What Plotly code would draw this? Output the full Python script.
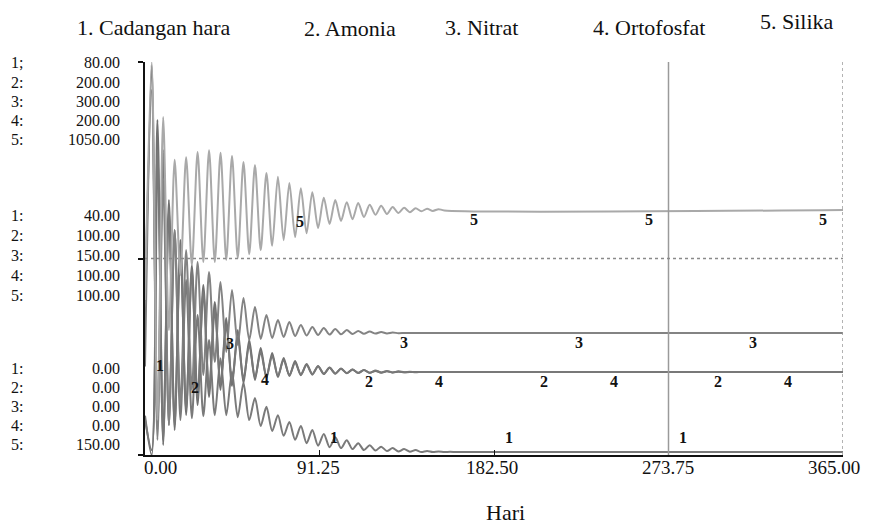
import plotly.graph_objects as go
import numpy as np

# ---------------- data ----------------
series_names = ["1. Cadangan hara", "2. Amonia", "3. Nitrat", "4. Ortofosfat", "5. Silika"]
scale_min = [0, 0, 0, 0, 150]
scale_max = [80, 200, 300, 200, 1050]
row_prefix_top = ["1;", "2:", "3:", "4:", "5:"]
row_prefix = ["1:", "2:", "3:", "4:", "5:"]
top_labels = ["80.00", "200.00", "300.00", "200.00", "1050.00"]
mid_labels = ["40.00", "100.00", "150.00", "100.00", "100.00"]
bot_labels = ["0.00", "0.00", "0.00", "0.00", "150.00"]
x_ticks = [0, 91.25, 182.5, 273.75, 365]
x_tick_labels = ["0.00", "91.25", "182.50", "273.75", "365.00"]
t_end = 365

# times (days) of the two alternating extrema of the oscillations
t_a = [3.5, 9.5, 15.5, 21.5, 27.5, 33.5, 39.5, 45.5, 51.5, 57.5, 63.5, 69.5, 75.5, 81.5,
       87.5, 93.5, 99.5, 105.5, 111.5, 117.5, 123.5, 129.5, 135.5, 141.5, 147.5, 153.5, 159.5, 165.5]
t_b = [6.5, 12.5, 18.5, 24.5, 30.5, 36.5, 42.5, 48.5, 54.5, 60.5, 66.5, 72.5, 78.5, 84.5,
       90.5, 96.5, 102.5, 108.5, 114.5, 120.5, 126.5, 132.5, 138.5, 144.5, 150.5, 156.5, 162.5, 168.5]

# 1. Cadangan hara (peaks at t_a, troughs at t_b)
s1_start = 18.0
s1_peaks = [79.4, 62.1, 45.8, 35.6, 28.5, 23.4, 19.7, 16.9, 14.7, 11.6, 9.8, 8.1, 6.7, 5.9,
            5.1, 4.3, 3.6, 3.0, 2.4, 2.0, 1.7, 1.4, 1.2, 1.0, 0.83, 0.73, 0.65, 0.61]
s1_troughs = [5.1, 6.1, 7.1, 7.5, 7.9, 8.1, 8.1, 7.7, 7.1, 5.9, 4.9, 3.9, 3.1, 2.4,
              1.9, 1.6, 1.4, 1.2, 1.0, 0.9, 0.8, 0.71, 0.65, 0.61, 0.61, 0.61, 0.61, 0.61]
s1_final = 0.6

# 2. Amonia (troughs at t_a, peaks at t_b)
s2_start = 20.0
s2_peaks = [170.5, 129.8, 109.4, 96.7, 86.5, 77.9, 69.7, 63.6, 58.5, 54.5, 51.9, 49.4,
            47.8, 46.3, 45.3, 44.5, 44.0, 43.5, 43.2, 42.8, 42.6, 42.4, 42.2]
s2_troughs = [0.0, 5.1, 12.7, 20.4, 25.4, 29.5, 33.1, 35.1, 36.6, 38.2, 39.2, 39.7,
              40.2, 40.6, 40.9, 41.2, 41.4, 41.6, 41.7, 41.8, 41.9, 42.0, 42.1]
s2_final = 42.2

# 3. Nitrat (peaks at t_a, troughs at t_b)
s3_start = 118.0
s3_peaks = [278.6, 209.9, 171.8, 156.5, 147.3, 139.7, 132.1, 126.0, 119.9, 113.0, 106.9, 103.1,
            101.5, 99.2, 97.7, 97.0, 96.2, 95.4, 94.7, 94.3, 93.9, 93.5, 93.1]
s3_troughs = [11.5, 22.9, 38.2, 49.6, 61.1, 71.0, 78.6, 84.0, 87.8, 88.6, 89.3, 90.1,
              90.8, 91.2, 91.6, 91.9, 92.1, 92.4, 92.5, 92.7, 92.8, 93.0, 93.1]
s3_final = 93.1

# 4. Ortofosfat (troughs at t_a, peaks at t_b)
s4_start = 18.0
s4_peaks = [155.2, 124.7, 106.9, 94.1, 83.0, 73.8, 66.2, 60.1, 56.0, 52.4, 50.4, 48.3, 46.8,
            45.8, 45.0, 44.4, 43.9, 43.5, 43.3, 43.0, 42.7, 42.6, 42.4, 42.3, 42.2]
s4_troughs = [2.5, 7.6, 15.3, 22.9, 29.0, 33.1, 35.6, 37.7, 38.7, 39.4, 39.9, 40.4, 40.7,
              41.0, 41.2, 41.4, 41.5, 41.7, 41.8, 41.9, 42.0, 42.0, 42.1, 42.1, 42.2]
s4_final = 42.2

# 5. Silika (peaks at t_a, troughs at t_b)
s5_start = 505.0
s5_peaks = [1050, 924, 826, 832, 844, 848, 842, 835, 821, 814, 796, 787, 773,
            761, 752, 739, 734, 729, 727, 723, 721, 718, 716, 715, 714, 713]
s5_troughs = [230, 436, 562, 585, 592, 592, 597, 601, 610, 619, 629, 642, 649,
              658, 670, 679, 686, 690, 695, 700, 702, 704, 706, 708, 709, 710]
s5_final = 711

# values of the first curve label of each series (data units of that series)
label0_values = [18.3, 34.1, 85.5, 38.2, 683.6]

# ---------------- build ----------------
def build(start, peaks, troughs, final, peaks_on_a=True):
    n = len(peaks)
    tp = t_a[:n] if peaks_on_a else t_b[:n]
    tt = t_b[:n] if peaks_on_a else t_a[:n]
    pts = [(0.0, start)] + list(zip(tp, peaks)) + list(zip(tt, troughs))
    pts.sort(key=lambda p: p[0])
    pts.append((t_end, final))
    return [p[0] for p in pts], [p[1] for p in pts]

curves = [
    build(s1_start, s1_peaks, s1_troughs, s1_final, True),
    build(s2_start, s2_peaks, s2_troughs, s2_final, False),
    build(s3_start, s3_peaks, s3_troughs, s3_final, True),
    build(s4_start, s4_peaks, s4_troughs, s4_final, False),
    build(s5_start, s5_peaks, s5_troughs, s5_final, True),
]
finals = [s1_final, s2_final, s3_final, s4_final, s5_final]
colors = ["#7a7a7a", "#717171", "#838383", "#787878", "#a9a9a9"]
yaxes = ["y", "y2", "y3", "y4", "y5"]

fig = go.Figure()
for k in [4, 2, 3, 1, 0]:
    xs, ys = curves[k]
    fig.add_trace(go.Scatter(x=xs, y=ys, mode="lines", yaxis=yaxes[k],
                             line=dict(color=colors[k], width=2, shape="spline", smoothing=0.8),
                             name=series_names[k], hoverinfo="skip"))

# page has an 8px body margin: figure is offset by 8px in the screenshot
OFF = 8
W, H = 870 - OFF, 529 - OFF
X0, X1, Y0, Y1 = 145, 843, 62, 455       # plot area in screen pixels
L, R, T, B = X0 - OFF, 870 - X1, Y0 - OFF, 529 - Y1
pw, ph = X1 - X0, Y1 - Y0
def px(xp):
    return (xp - X0) / pw
def py(yp):
    return (Y1 - yp) / ph

serif = "Liberation Serif, Times New Roman, DejaVu Serif, serif"
ann = []
# top legend
legend_pos = [(154, 27), (350, 29), (481, 27), (649, 27), (797, 22)]
for name, (cx, cy) in zip(series_names, legend_pos):
    ann.append(dict(text=name, x=px(cx), y=py(cy), xref="paper", yref="paper",
                    xanchor="center", yanchor="middle", showarrow=False,
                    font=dict(family=serif, size=22, color="#111")))
# left scale blocks
blocks = [(top_labels, row_prefix_top, [63, 82, 101, 120, 139]),
          (mid_labels, row_prefix, [215, 236, 255, 275, 295]),
          (bot_labels, row_prefix, [368, 387, 406, 425, 444])]
for labels, prefs, rows in blocks:
    for lab, pre, yy in zip(labels, prefs, rows):
        ann.append(dict(text=pre, x=px(9), y=py(yy), xref="paper", yref="paper",
                        xanchor="left", yanchor="middle", showarrow=False,
                        font=dict(family=serif, size=16, color="#111")))
        ann.append(dict(text=lab, x=px(122), y=py(yy), xref="paper", yref="paper",
                        xanchor="right", yanchor="middle", showarrow=False,
                        font=dict(family=serif, size=16, color="#111")))
# x tick labels
xlab_px = [160, 318, 492, 668, 834]
for lab, xp in zip(x_tick_labels, xlab_px):
    ann.append(dict(text=lab, x=px(xp), y=py(467), xref="paper", yref="paper",
                    xanchor="center", yanchor="middle", showarrow=False,
                    font=dict(family=serif, size=19, color="#111")))
ann.append(dict(text="Hari", x=px(505), y=py(513), xref="paper", yref="paper",
                xanchor="center", yanchor="middle", showarrow=False,
                font=dict(family=serif, size=22, color="#111")))
# curve number labels
for k in range(5):
    for j in range(4):
        xd = 7.8 + 18.25 * k + 91.25 * j
        if j == 0:
            yv, ysh = label0_values[k], 0
        else:
            yv = finals[k]
            ysh = 15 if k == 0 else -9
        ann.append(dict(text="<b>%d</b>" % (k + 1), x=xd, y=yv, xref="x", yref=yaxes[k],
                        yshift=ysh, xanchor="center", yanchor="middle", showarrow=False,
                        font=dict(family=serif, size=16, color="#111")))

shapes = [
    dict(type="line", xref="x", yref="paper", x0=273.75, x1=273.75, y0=0, y1=1,
         line=dict(color="#9a9a9a", width=1.5)),
    dict(type="line", xref="x", yref="paper", x0=365, x1=365, y0=0, y1=1,
         line=dict(color="#9a9a9a", width=1.5, dash="dot")),
    dict(type="line", xref="paper", yref="paper", x0=0, x1=1, y0=0.5, y1=0.5,
         line=dict(color="#8a8a8a", width=1.5, dash="dot")),
]

fig.update_layout(
    width=W, height=H, autosize=False,
    margin=dict(l=L, r=R, t=T, b=B, pad=0),
    paper_bgcolor="white", plot_bgcolor="white",
    showlegend=False, annotations=ann, shapes=shapes,
    xaxis=dict(range=[0, 365], showline=True, linecolor="#111", linewidth=2,
               ticks="inside", ticklen=5, tickcolor="#111", tickvals=x_ticks,
               showticklabels=False, showgrid=False, zeroline=False),
    yaxis=dict(range=[scale_min[0], scale_max[0]], showline=True, linecolor="#111", linewidth=2,
               ticks="outside", ticklen=5, tickcolor="#111", tickwidth=2,
               tickvals=[scale_min[0], (scale_min[0] + scale_max[0]) / 2, scale_max[0]],
               showticklabels=False, showgrid=False, zeroline=False),
)
for i in range(1, 5):
    fig.update_layout(**{"yaxis%d" % (i + 1): dict(range=[scale_min[i], scale_max[i]],
                                                  overlaying="y", visible=False)})

fig.write_html("out.html")
